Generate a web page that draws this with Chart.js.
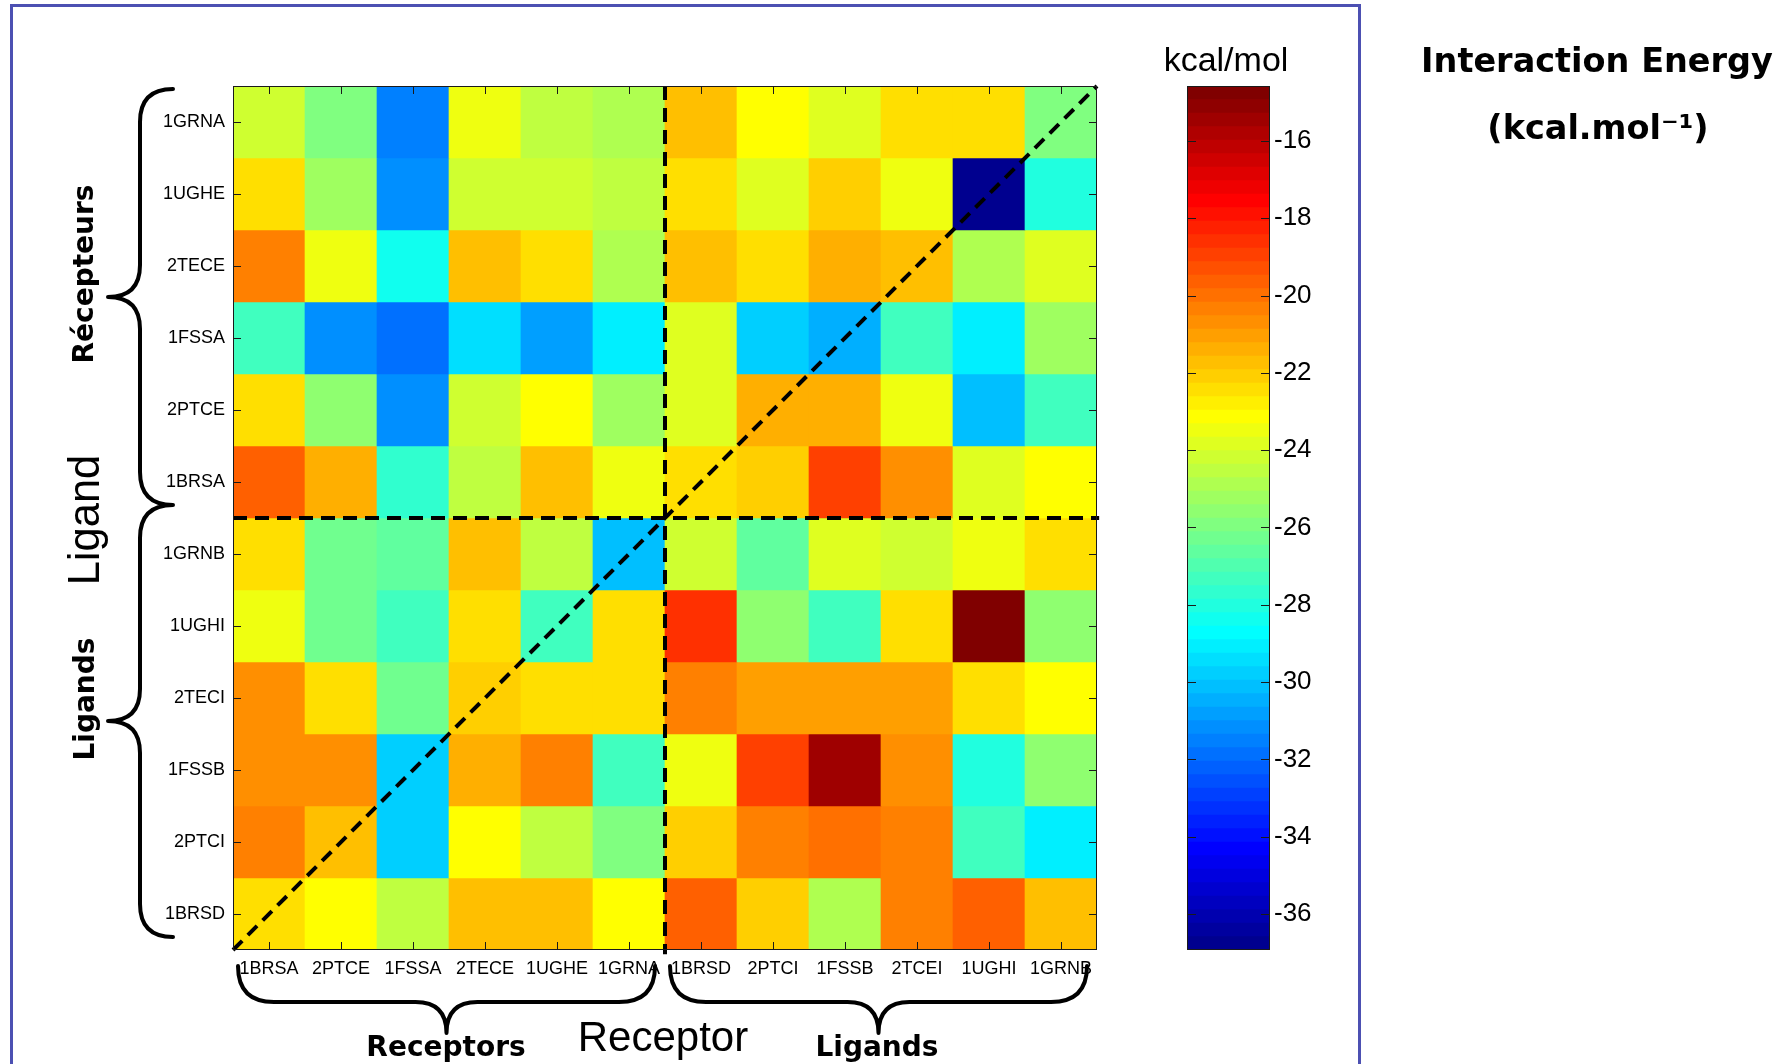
<!DOCTYPE html>
<html><head><meta charset="utf-8">
<script src="https://cdn.jsdelivr.net/npm/chart.js@4.4.1/dist/chart.umd.min.js"></script>
<style>
html,body{margin:0;padding:0;background:#fff;}
body{width:1786px;height:1064px;position:relative;overflow:hidden;}
#frame{position:absolute;left:9.75px;top:3.75px;width:1351.5px;height:1120px;border:3.5px solid #4c50b2;box-sizing:border-box;}
canvas{position:absolute;top:0;}
.t{position:absolute;white-space:nowrap;line-height:1;color:#000;}
.b{font-family:"DejaVu Sans";font-weight:bold;}
.n{font-family:"Liberation Sans";}
.c{transform:translateX(-50%);}
.rot{transform:translate(-50%,-50%) rotate(-90deg);}
</style></head>
<body>
<div id="frame"></div>
<canvas id="main" width="1786" height="1064" style="left:0"></canvas>
<canvas id="cbar" width="200" height="1064" style="left:1150px"></canvas>

<div class="t b rot" style="left:84px;top:274px;font-size:28px;">Récepteurs</div>
<div class="t n rot" style="left:85px;top:520px;font-size:43.5px;">Ligand</div>
<div class="t b rot" style="left:85px;top:699px;font-size:28px;">Ligands</div>
<div class="t b c" style="left:446px;top:1033px;font-size:28px;">Receptors</div>
<div class="t n c" style="left:663px;top:1016px;font-size:42px;">Receptor</div>
<div class="t b c" style="left:877px;top:1033px;font-size:28px;">Ligands</div>
<div class="t n c" style="left:1226px;top:42px;font-size:34px;">kcal/mol</div>
<div class="t b c" style="left:1597px;top:44px;font-size:33.5px;">Interaction Energy</div>
<div class="t b c" style="left:1598px;top:111px;font-size:33.5px;">(kcal.mol⁻¹)</div>

<script>
// ---- data (kcal/mol) ----
const rowLabels = ['1GRNA','1UGHE','2TECE','1FSSA','2PTCE','1BRSA','1GRNB','1UGHI','2TECI','1FSSB','2PTCI','1BRSD'];
const colLabels = ['1BRSA','2PTCE','1FSSA','2TECE','1UGHE','1GRNA','1BRSD','2PTCI','1FSSB','2TCEI','1UGHI','1GRNB'];

const row_1GRNA = [-24.2,-25.9,-31.5,-23.5,-24.5,-24.9,-21.6,-23.1,-23.8,-22.6,-22.6,-25.9];
const row_1UGHE = [-22.4,-25.2,-31.2,-24.2,-24.3,-24.6,-22.4,-23.8,-22.1,-23.5,-36.93,-28.0];
const row_2TECE = [-20.2,-23.5,-28.4,-21.9,-22.4,-24.9,-21.7,-22.4,-21.4,-21.7,-24.9,-23.8];
const row_1FSSA = [-27.3,-31.2,-31.9,-29.4,-30.8,-29.2,-23.8,-29.8,-30.5,-27.3,-29.1,-25.2];
const row_2PTCE = [-22.4,-25.6,-31.2,-24.2,-23.1,-25.2,-24.0,-21.4,-21.4,-23.5,-30.0,-27.3];
const row_1BRSA = [-19.6,-21.4,-27.7,-24.5,-21.6,-23.5,-22.4,-22.1,-18.8,-20.7,-23.8,-23.1];
const row_1GRNB = [-22.4,-26.3,-26.6,-21.7,-24.5,-30.1,-24.2,-26.6,-23.8,-24.2,-23.5,-22.4];
const row_1UGHI = [-23.5,-26.3,-27.3,-22.4,-27.3,-22.4,-18.6,-25.6,-27.3,-22.4,-14.58,-25.6];
const row_2TECI = [-20.7,-22.4,-26.3,-22.1,-22.4,-22.4,-20.3,-21.0,-21.0,-21.0,-22.4,-23.1];
const row_1FSSB = [-20.7,-20.7,-29.8,-21.4,-20.3,-27.3,-23.5,-18.9,-15.4,-20.7,-28.0,-25.6];
const row_2PTCI = [-20.3,-21.6,-29.8,-23.1,-24.5,-25.9,-22.1,-20.3,-20.0,-20.3,-27.3,-29.1];
const row_1BRSD = [-22.4,-23.1,-24.5,-21.7,-21.9,-23.1,-19.6,-22.1,-24.9,-20.3,-19.6,-21.7];

const cbarTicks = [-36,-34,-32,-30,-28,-26,-24,-22,-20,-18,-16];

const energyRows = [row_1GRNA,row_1UGHE,row_2TECE,row_1FSSA,row_2PTCE,row_1BRSA,
                    row_1GRNB,row_1UGHI,row_2TECI,row_1FSSB,row_2PTCI,row_1BRSD];

// ---- jet colormap (64 levels, MATLAB style) ----
const NLEV = 64;
function jet64(j){
  const u = k => (k < 1 || k > 47) ? 0 : (k <= 16 ? k/16 : (k <= 31 ? 1 : (48-k)/16));
  const r = u(j-24), g = u(j-8), b = u(j+8);
  return 'rgb(' + Math.round(r*255) + ',' + Math.round(g*255) + ',' + Math.round(b*255) + ')';
}
const allVals = energyRows.flat();
const cmin = Math.min(...allVals), cmax = Math.max(...allVals);
function colorFor(v){
  let k = Math.floor((v - cmin) / (cmax - cmin) * NLEV);
  k = Math.max(0, Math.min(NLEV-1, k));
  return jet64(k+1);
}

Chart.defaults.font.family = 'Liberation Sans';
Chart.defaults.color = '#000';

// ---- heatmap ----
const heatDatasets = energyRows.map((row, i) => ({
  type:'bar', label: rowLabels[i],
  data: row.map(() => [i, i+1]),
  backgroundColor: row.map(colorFor),
  borderWidth:0, barPercentage:1, categoryPercentage:1, grouped:false,
  xAxisID:'x', yAxisID:'y', order:2
}));
const dashStyle = {type:'line', xAxisID:'xl', yAxisID:'y', borderColor:'#000', borderWidth:4,
  pointRadius:0, fill:false, clip:false, order:0};
const lineDatasets = [
  Object.assign({label:'v', data:[{x:6,y:0},{x:6,y:12.06}], borderDash:[14,8]}, dashStyle),
  Object.assign({label:'h', data:[{x:0,y:6},{x:12.03,y:6}], borderDash:[14,8]}, dashStyle),
  Object.assign({label:'d', data:[{x:0,y:12},{x:12,y:0}], borderDash:[13,8]}, dashStyle)
];

function braceLeft(ctx, xEnd, xSpine, xTip, yTop, yBot){
  const yTip=(yTop+yBot)/2, r=xEnd-xSpine, r2=xSpine-xTip;
  ctx.moveTo(xEnd,yTop);
  ctx.quadraticCurveTo(xSpine,yTop,xSpine,yTop+r);
  ctx.lineTo(xSpine,yTip-r2);
  ctx.quadraticCurveTo(xSpine,yTip,xTip,yTip);
  ctx.quadraticCurveTo(xSpine,yTip,xSpine,yTip+r2);
  ctx.lineTo(xSpine,yBot-r);
  ctx.quadraticCurveTo(xSpine,yBot,xEnd,yBot);
}
function braceDown(ctx, x1, x2, yEnd, ySpine, yTip){
  const xt=(x1+x2)/2, r=ySpine-yEnd, r2=yTip-ySpine;
  ctx.moveTo(x1,yEnd);
  ctx.quadraticCurveTo(x1,ySpine,x1+r,ySpine);
  ctx.lineTo(xt-r2,ySpine);
  ctx.quadraticCurveTo(xt,ySpine,xt,yTip);
  ctx.quadraticCurveTo(xt,ySpine,xt+r2,ySpine);
  ctx.lineTo(x2-r,ySpine);
  ctx.quadraticCurveTo(x2,ySpine,x2,yEnd);
}

const heatDecor = {
  id:'heatDecor',
  afterDraw(chart){
    const {ctx, chartArea:a, scales:{x, y, xl}} = chart;
    ctx.save();
    ctx.strokeStyle='#1a1a1a'; ctx.lineWidth=1;
    ctx.strokeRect(a.left+0.5, a.top+0.5, a.width-1, a.height-1);
    const L=8;
    ctx.beginPath();
    x.ticks.forEach((t,i)=>{ const px=Math.round(x.getPixelForTick(i))+0.5;
      ctx.moveTo(px,a.top); ctx.lineTo(px,a.top+L); ctx.moveTo(px,a.bottom); ctx.lineTo(px,a.bottom-L); });
    y.ticks.forEach(t=>{ const py=Math.round(y.getPixelForValue(t.value))+0.5;
      ctx.moveTo(a.left,py); ctx.lineTo(a.left+L,py); ctx.moveTo(a.right,py); ctx.lineTo(a.right-L,py); });
    ctx.stroke();
    // braces
    const midX = xl.getPixelForValue(6), midY = y.getPixelForValue(6);
    ctx.strokeStyle='#000'; ctx.lineWidth=4; ctx.lineCap='round'; ctx.lineJoin='round';
    ctx.beginPath();
    braceLeft(ctx, a.left-60, a.left-93, a.left-125, a.top+3, midY-13);
    braceLeft(ctx, a.left-60, a.left-93, a.left-125, midY-13, a.bottom-13);
    braceDown(ctx, a.left+5, midX-10, a.bottom+16, a.bottom+52, a.bottom+83);
    braceDown(ctx, midX+5, a.right-10, a.bottom+16, a.bottom+52, a.bottom+83);
    ctx.stroke();
    ctx.restore();
  }
};

new Chart(document.getElementById('main'), {
  type:'bar',
  data:{ labels: colLabels, datasets: heatDatasets.concat(lineDatasets) },
  options:{
    responsive:false, animation:false,
    layout:{ autoPadding:false, padding:{left:0, top:86, right:689, bottom:54} },
    plugins:{ legend:{display:false}, tooltip:{enabled:false} },
    scales:{
      x:{ type:'category', labels: colLabels, offset:true,
          grid:{display:false, drawTicks:false}, border:{display:false},
          ticks:{ font:{size:18}, color:'#000', padding:8, maxRotation:0, autoSkip:false },
          afterFit: s => { s.height = 60; } },
      xl:{ type:'linear', min:0, max:12, display:false, offset:false, grid:{offset:false} },
      y:{ type:'linear', min:0, max:12, reverse:true, offset:false,
          grid:{display:false, drawTicks:false}, border:{display:false},
          ticks:{ font:{size:18}, color:'#000', padding:8, autoSkip:false,
                  callback: v => rowLabels[Math.floor(v)] },
          afterBuildTicks: s => { s.ticks = rowLabels.map((_,i)=>({value:i+0.5})); },
          afterFit: s => { s.width = 233; } }
    }
  },
  plugins:[heatDecor]
});

// ---- colorbar ----
const step = (cmax - cmin) / NLEV;
const cbDatasets = Array.from({length:NLEV}, (_,k) => ({
  data: [[cmin + k*step - (k>0 ? step*0.08 : 0), cmin + (k+1)*step]],
  backgroundColor: jet64(k+1), borderWidth:0,
  barPercentage:1, categoryPercentage:1, grouped:false
}));
const cbarDecor = {
  id:'cbarDecor',
  afterDraw(chart){
    const {ctx, chartArea:a, scales:{y}} = chart;
    ctx.save();
    ctx.strokeStyle='#1a1a1a'; ctx.lineWidth=1;
    ctx.strokeRect(a.left+0.5, a.top+0.5, a.width-1, a.height-1);
    const L=9;
    ctx.beginPath();
    cbarTicks.forEach(v=>{ const py=Math.round(y.getPixelForValue(v))+0.5;
      ctx.moveTo(a.left,py); ctx.lineTo(a.left+L,py); ctx.moveTo(a.right,py); ctx.lineTo(a.right-L,py); });
    ctx.stroke();
    ctx.restore();
  }
};
new Chart(document.getElementById('cbar'), {
  type:'bar',
  data:{ labels:[''], datasets: cbDatasets },
  options:{
    responsive:false, animation:false,
    layout:{ autoPadding:false, padding:{left:37, top:86, right:0, bottom:114} },
    plugins:{ legend:{display:false}, tooltip:{enabled:false} },
    scales:{
      x:{ type:'category', display:false, offset:true },
      y:{ type:'linear', position:'right', min:cmin, max:cmax,
          grid:{display:false, drawTicks:false}, border:{display:false},
          ticks:{ font:{size:26}, color:'#000', padding:4 },
          afterBuildTicks: s => { s.ticks = cbarTicks.map(v=>({value:v})); },
          afterFit: s => { s.width = 80; } }
    }
  },
  plugins:[cbarDecor]
});
</script>
</body></html>
